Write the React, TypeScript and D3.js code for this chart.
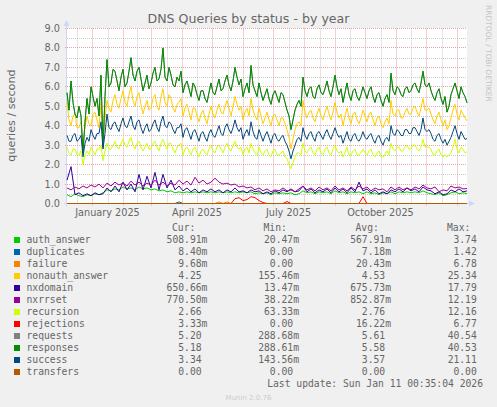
import React from 'react';
import * as d3 from 'd3';

// samples span 2024-12-07 .. 2026-01-11 (400 days); upper series every 2 days, lower every 4 days
const START = new Date(2024, 11, 7);
const END = new Date(2026, 0, 11);
const SPAN_DAYS = 400;

const AUTH_ANSWER = [
  0.45, 0.35, 0.5, 0.4, 0.35, 0.45, 0.4, 0.5, 0.45, 0.55,
  0.7, 0.65, 0.75, 0.7, 0.85, 0.75, 0.8, 0.7, 0.85, 0.75,
  0.8, 0.7, 0.75, 0.65, 0.7, 0.6, 0.65, 0.55, 0.6, 0.55,
  0.6, 0.55, 0.6, 0.55, 0.6, 0.55, 0.6, 0.55, 0.6, 0.55,
  0.6, 0.55, 0.6, 0.55, 0.6, 0.55, 0.6, 0.5, 0.55, 0.5,
  0.55, 0.45, 0.55, 0.5, 0.55, 0.5, 0.55, 0.45, 0.5, 0.65,
  0.55, 0.6, 0.5, 0.6, 0.55, 0.6, 0.5, 0.65, 0.55, 0.6,
  0.5, 0.6, 0.55, 0.6, 0.5, 0.6, 0.5, 0.55, 0.45, 0.55,
  0.5, 0.6, 0.5, 0.6, 0.55, 0.6, 0.55, 0.6, 0.55, 0.65,
  0.55, 0.5, 0.45, 0.55, 0.4, 0.45, 0.55, 0.6, 0.5, 0.55,
  0.51,
];

const DUPLICATES = [
  0, 0, 0, 0, 0, 0, 0, 0, 0, 0,
  0, 0, 0, 0, 0, 0, 0, 0, 0, 0,
  0, 0, 0, 0, 0, 0, 0, 0, 0.08, 0,
  0, 0, 0, 0, 0, 0, 0, 0, 0, 0,
  0, 0, 0, 0, 0, 0, 0, 0, 0, 0,
  0, 0, 0, 0, 0, 0, 0, 0, 0, 0,
  0, 0, 0, 0, 0, 0, 0, 0, 0, 0,
  0, 0, 0, 0, 0, 0, 0, 0, 0, 0,
  0, 0, 0, 0, 0, 0, 0, 0, 0, 0,
  0, 0, 0, 0, 0, 0, 0, 0, 0, 0,
  0,
];

const FAILURE = [
  0, 0, 0, 0, 0, 0, 0, 0, 0, 0,
  0, 0, 0, 0, 0, 0, 0, 0, 0, 0,
  0, 0, 0, 0, 0, 0, 0, 0, 0, 0,
  0, 0, 0, 0, 0, 0, 0, 0, 0.08, 0,
  0.08, 0, 0, 0, 0, 0, 0, 0, 0, 0,
  0, 0, 0, 0, 0, 0, 0, 0, 0, 0,
  0, 0, 0, 0, 0, 0, 0, 0, 0, 0,
  0, 0, 0, 0, 0, 0, 0, 0, 0, 0,
  0, 0, 0, 0, 0, 0, 0, 0, 0, 0,
  0, 0, 0, 0, 0, 0, 0, 0, 0, 0,
  0,
];

const NONAUTH_ANSWER = [
  5.2, 4.3, 4.0, 4.5, 4.6, 3.9, 3.9, 4.2, 3.1, 3.9,
  4.5, 4.1, 4.0, 4.6, 4.7, 4.3, 3.9, 5.2, 3.0, 4.4,
  5.3, 4.9, 4.7, 5.3, 5.6, 5.1, 4.9, 5.4, 5.8, 5.2,
  5.0, 5.6, 6.0, 5.3, 5.0, 5.5, 5.7, 5.1, 4.6, 5.0,
  5.3, 4.8, 4.9, 5.4, 5.6, 5.0, 4.8, 5.5, 5.9, 5.2,
  5.0, 5.6, 5.4, 4.9, 4.7, 5.1, 5.2, 5.4, 4.5, 4.9,
  5.1, 4.7, 4.3, 4.9, 4.9, 4.5, 4.2, 4.6, 4.8, 4.4,
  4.1, 4.6, 5.0, 4.6, 4.4, 4.8, 5.1, 4.7, 4.6, 5.0,
  5.3, 4.9, 4.5, 5.0, 5.5, 5.1, 4.8, 5.0, 4.3, 4.7,
  4.9, 4.5, 5.4, 4.8, 4.5, 4.3, 4.9, 4.5, 4.1, 4.4,
  4.7, 4.3, 4.0, 4.5, 4.6, 4.3, 4.0, 4.4, 4.4, 4.1,
  3.8, 3.4, 2.8, 3.3, 3.8, 4.1, 4.2, 4.0, 5.3, 4.7,
  4.4, 4.7, 4.8, 4.4, 4.2, 4.6, 4.9, 4.5, 4.3, 4.7,
  5.0, 4.6, 4.3, 4.7, 5.2, 4.7, 4.4, 4.6, 4.0, 4.5,
  4.9, 4.4, 4.1, 4.6, 4.7, 4.3, 4.1, 4.4, 4.8, 4.5,
  4.2, 4.6, 4.7, 4.3, 4.0, 4.4, 4.5, 4.1, 3.9, 4.2,
  4.4, 4.1, 5.3, 4.6, 4.5, 4.8, 4.8, 4.4, 4.4, 4.7,
  4.9, 4.6, 4.6, 4.9, 5.0, 4.7, 4.5, 4.9, 5.4, 4.8,
  4.8, 4.9, 4.6, 4.3, 4.1, 4.5, 4.7, 4.3, 4.0, 4.3,
  3.8, 4.0, 4.4, 4.8, 5.1, 4.6, 4.3, 4.8, 4.6, 4.4,
  4.25,
];

const NXDOMAIN = [
  1.2, 1.9, 0.45, 0.55, 0.4, 0.5, 0.4, 0.55, 0.45, 0.5,
  0.8, 0.6, 0.9, 0.6, 1.1, 0.7, 1.0, 0.6, 1.5, 0.7,
  1.4, 0.8, 1.6, 0.7, 1.5, 0.8, 1.2, 0.7, 0.9, 0.65,
  0.8, 0.6, 0.75, 0.55, 0.7, 0.6, 0.75, 0.6, 0.7, 0.55,
  0.7, 0.6, 0.8, 0.6, 0.65, 0.55, 0.7, 0.6, 0.65, 0.5,
  0.6, 0.5, 0.65, 0.55, 0.7, 0.6, 0.75, 0.6, 0.65, 0.9,
  0.6, 0.75, 0.55, 0.7, 0.6, 0.75, 0.55, 0.8, 0.6, 0.75,
  0.55, 0.8, 0.6, 1.1, 0.65, 0.75, 0.55, 0.7, 0.5, 0.6,
  0.5, 0.7, 0.6, 0.75, 0.6, 0.8, 0.65, 0.75, 0.6, 0.85,
  0.7, 0.65, 0.5, 0.6, 0.45, 0.5, 0.7, 0.6, 0.75, 0.6,
  0.65,
];

const NXRRSET = [
  0.8, 0.7, 0.85, 0.75, 0.9, 0.8, 0.95, 0.85, 1.0, 0.8,
  1.05, 0.9, 1.1, 0.95, 1.05, 0.9, 1.15, 0.95, 1.1, 0.9,
  1.05, 0.95, 1.2, 0.95, 1.1, 0.9, 1.05, 0.95, 1.2, 1.0,
  1.15, 0.95, 1.35, 1.05, 1.2, 1.0, 1.1, 1.3, 1.1, 1.0,
  1.05, 0.95, 1.0, 0.85, 0.9, 0.8, 0.85, 0.7, 0.8, 0.65,
  0.75, 0.6, 0.7, 0.65, 0.8, 0.65, 0.7, 0.6, 0.75, 0.9,
  0.7, 0.8, 0.65, 0.85, 0.7, 0.8, 0.65, 0.9, 0.7, 0.8,
  0.65, 0.85, 0.7, 0.9, 0.75, 0.85, 0.65, 0.8, 0.7, 0.75,
  0.6, 0.85, 0.7, 0.85, 0.7, 0.8, 0.7, 0.85, 0.75, 0.95,
  0.8, 0.75, 0.85, 0.6, 0.7, 0.65, 0.9, 0.8, 0.85, 0.75,
  0.77,
];

const RECURSION = [
  2.9, 2.6, 2.5, 2.8, 2.8, 2.5, 2.5, 2.7, 2.0, 2.5,
  2.7, 2.5, 2.9, 2.7, 2.5, 2.8, 2.8, 3.0, 2.2, 2.7,
  3.1, 2.8, 2.8, 3.0, 3.2, 2.9, 2.8, 3.1, 3.3, 3.0,
  2.9, 3.2, 3.4, 3.0, 2.8, 3.1, 3.2, 2.9, 2.7, 2.9,
  3.1, 2.8, 2.8, 3.1, 3.2, 2.9, 2.7, 3.1, 3.3, 3.0,
  2.8, 3.1, 3.1, 2.8, 2.6, 2.9, 3.0, 3.1, 2.5, 2.8,
  2.9, 2.7, 2.5, 2.8, 2.9, 2.6, 2.4, 2.7, 2.8, 2.6,
  2.5, 2.8, 3.0, 2.7, 2.6, 2.9, 3.0, 2.8, 2.6, 2.9,
  3.1, 2.8, 2.7, 3.0, 3.2, 2.9, 2.8, 2.9, 2.5, 2.8,
  2.9, 2.6, 3.1, 2.8, 2.6, 2.5, 2.9, 2.6, 2.5, 2.7,
  2.8, 2.5, 2.4, 2.7, 2.8, 2.5, 2.5, 2.6, 2.7, 2.4,
  2.3, 2.0, 1.8, 2.1, 2.4, 2.6, 2.6, 2.5, 3.1, 2.7,
  2.6, 2.8, 2.9, 2.6, 2.5, 2.8, 2.9, 2.6, 2.5, 2.8,
  2.9, 2.6, 2.5, 2.8, 3.0, 2.7, 2.6, 2.7, 2.4, 2.6,
  2.9, 2.5, 2.5, 2.7, 2.8, 2.5, 2.5, 2.6, 2.8, 2.6,
  2.5, 2.7, 2.8, 2.5, 2.4, 2.6, 2.7, 2.4, 2.4, 2.5,
  2.7, 2.5, 3.1, 2.8, 2.7, 2.9, 2.9, 2.7, 2.7, 2.9,
  3.0, 2.8, 2.8, 3.0, 3.0, 2.8, 2.7, 2.9, 3.3, 2.9,
  2.9, 2.9, 2.8, 2.5, 2.5, 2.7, 2.8, 2.5, 2.4, 2.5,
  2.4, 2.5, 2.6, 2.9, 3.3, 2.8, 2.6, 2.9, 2.8, 2.6,
  2.66,
];

const REJECTIONS = [
  0, 0, 0, 0, 0, 0, 0, 0, 0, 0,
  0, 0, 0, 0, 0, 0, 0, 0, 0, 0,
  0, 0, 0, 0, 0, 0, 0, 0, 0, 0,
  0, 0, 0, 0, 0, 0, 0, 0, 0, 0,
  0, 0, 0.25, 0.3, 0.15, 0.2, 0.35, 0.3, 0.15, 0.05,
  0, 0, 0, 0, 0, 0.1, 0, 0, 0, 0,
  0, 0, 0, 0, 0, 0, 0, 0, 0, 0,
  0, 0, 0, 0, 0.35, 0, 0, 0, 0, 0,
  0, 0, 0, 0, 0, 0, 0, 0, 0, 0,
  0, 0, 0, 0, 0, 0, 0, 0, 0, 0,
  0,
];

const RESPONSES = [
  5.7, 4.8, 6.3, 5.2, 4.6, 4.4, 5.0, 4.5, 2.6, 4.2,
  5.4, 4.6, 6.0, 5.5, 5.0, 5.4, 4.5, 6.6, 2.9, 5.5,
  7.4, 6.0, 6.2, 6.9, 6.8, 6.3, 5.8, 6.5, 6.9, 6.0,
  6.2, 6.8, 7.5, 6.6, 6.3, 6.8, 7.0, 6.4, 5.8, 6.2,
  6.6, 5.9, 6.2, 6.7, 7.0, 6.3, 6.4, 6.9, 8.0, 6.5,
  6.3, 7.0, 6.6, 6.1, 6.0, 6.5, 6.3, 6.8, 5.7, 6.1,
  6.3, 5.9, 5.5, 6.2, 6.0, 5.6, 5.3, 5.8, 5.8, 5.4,
  5.2, 5.7, 6.2, 5.7, 5.6, 6.0, 6.4, 5.8, 5.9, 6.3,
  6.6, 6.1, 5.8, 6.3, 7.0, 6.5, 6.1, 6.4, 5.5, 5.9,
  6.2, 5.7, 7.1, 6.1, 5.8, 5.5, 6.2, 5.7, 5.3, 5.6,
  5.9, 5.4, 5.1, 5.6, 5.8, 5.5, 5.2, 5.7, 5.6, 5.2,
  4.8, 4.5, 3.8, 4.3, 4.8, 5.1, 5.3, 5.0, 6.5, 5.8,
  5.5, 5.9, 6.0, 5.5, 5.4, 5.9, 6.1, 5.7, 5.6, 5.9,
  6.3, 5.8, 5.5, 6.0, 6.6, 6.0, 5.6, 5.9, 5.2, 5.7,
  6.2, 5.6, 5.3, 5.8, 5.9, 5.5, 5.3, 5.6, 6.0, 5.7,
  5.4, 5.8, 6.0, 5.5, 5.2, 5.6, 5.7, 5.3, 5.0, 5.4,
  5.6, 5.2, 6.7, 5.8, 5.6, 6.0, 5.9, 5.6, 5.5, 5.9,
  6.0, 5.7, 5.8, 6.1, 6.2, 5.9, 5.7, 6.2, 6.8, 6.1,
  6.0, 6.2, 5.8, 5.5, 5.3, 5.7, 5.9, 5.4, 5.1, 5.5,
  4.7, 5.0, 5.6, 5.9, 6.2, 5.8, 5.4, 6.0, 5.7, 5.5,
  5.18,
];

// requests run under responses almost exactly
const REQUESTS = RESPONSES;

const SUCCESS = [
  3.5, 3.2, 3.2, 3.5, 3.6, 3.2, 3.3, 3.5, 2.4, 3.1,
  3.4, 3.2, 3.8, 3.5, 3.3, 3.6, 3.6, 4.2, 2.8, 3.6,
  4.6, 3.9, 3.8, 4.1, 4.2, 3.9, 3.7, 4.1, 4.4, 4.0,
  3.9, 4.2, 4.5, 4.0, 3.8, 4.2, 4.3, 3.9, 3.6, 3.9,
  4.1, 3.7, 3.8, 4.1, 4.3, 3.9, 3.7, 4.2, 4.5, 4.0,
  3.9, 4.2, 4.1, 3.8, 3.6, 3.9, 3.9, 4.1, 3.4, 3.8,
  3.9, 3.6, 3.3, 3.7, 3.8, 3.5, 3.2, 3.6, 3.7, 3.4,
  3.2, 3.6, 3.8, 3.5, 3.4, 3.7, 4.0, 3.6, 3.5, 3.9,
  4.1, 3.8, 3.6, 3.9, 4.3, 3.9, 3.7, 3.9, 3.3, 3.6,
  3.8, 3.5, 4.2, 3.7, 3.4, 3.3, 3.8, 3.5, 3.2, 3.5,
  3.7, 3.4, 3.1, 3.5, 3.6, 3.3, 3.2, 3.4, 3.5, 3.2,
  3.0, 2.7, 2.3, 2.7, 3.0, 3.3, 3.4, 3.2, 3.9, 3.5,
  3.3, 3.6, 3.7, 3.4, 3.2, 3.6, 3.7, 3.5, 3.3, 3.6,
  3.8, 3.5, 3.3, 3.6, 3.9, 3.6, 3.4, 3.5, 3.1, 3.4,
  3.7, 3.3, 3.2, 3.5, 3.6, 3.3, 3.2, 3.4, 3.7, 3.4,
  3.3, 3.5, 3.6, 3.3, 3.1, 3.4, 3.5, 3.2, 3.0, 3.3,
  3.4, 3.2, 4.0, 3.6, 3.5, 3.8, 3.7, 3.5, 3.5, 3.8,
  3.8, 3.6, 3.6, 3.9, 3.9, 3.7, 3.5, 3.8, 4.4, 3.8,
  3.7, 3.8, 3.6, 3.3, 3.2, 3.5, 3.6, 3.3, 3.1, 3.3,
  3.0, 3.2, 3.4, 3.7, 4.0, 3.6, 3.3, 3.7, 3.5, 3.3,
  3.34,
];

const TRANSFERS = [
  0, 0, 0, 0, 0, 0, 0, 0, 0, 0,
  0, 0, 0, 0, 0, 0, 0, 0, 0, 0,
  0, 0, 0, 0, 0, 0, 0, 0, 0, 0,
  0, 0, 0, 0, 0, 0, 0, 0, 0, 0,
  0, 0, 0, 0, 0, 0, 0, 0, 0, 0,
  0, 0, 0, 0, 0, 0, 0, 0, 0, 0,
  0, 0, 0, 0, 0, 0, 0, 0, 0, 0,
  0, 0, 0, 0, 0, 0, 0, 0, 0, 0,
  0, 0, 0, 0, 0, 0, 0, 0, 0, 0,
  0, 0, 0, 0, 0, 0, 0, 0, 0, 0,
  0,
];

const NAMES = [
  'auth_answer', 'duplicates', 'failure', 'nonauth_answer', 'nxdomain', 'nxrrset',
  'recursion', 'rejections', 'requests', 'responses', 'success', 'transfers',
];
const COLORS = [
  '#00CC00', '#0066B3', '#FF8000', '#FFCC00', '#330099', '#990099',
  '#CCFF00', '#FF0000', '#808080', '#008F00', '#00487D', '#B35A00',
];
const VALUES = [
  AUTH_ANSWER, DUPLICATES, FAILURE, NONAUTH_ANSWER, NXDOMAIN, NXRRSET,
  RECURSION, REJECTIONS, REQUESTS, RESPONSES, SUCCESS, TRANSFERS,
];

const CUR = ['508.91m', '8.40m', '9.68m', '4.25', '650.66m', '770.50m', '2.66', '3.33m', '5.20', '5.18', '3.34', '0.00'];
const MIN = ['20.47m', '0.00', '0.00', '155.46m', '13.47m', '38.22m', '63.33m', '0.00', '288.68m', '288.61m', '143.56m', '0.00'];
const AVG = ['567.91m', '7.18m', '20.43m', '4.53', '675.73m', '852.87m', '2.76', '16.22m', '5.61', '5.58', '3.57', '0.00'];
const MAX = ['3.74', '1.42', '6.78', '25.34', '17.79', '12.19', '12.16', '6.77', '40.54', '40.53', '21.11', '0.00'];

const Y_TICKS = [0, 1, 2, 3, 4, 5, 6, 7, 8, 9];

const W = 497;
const H = 407;
const LEFT = 67;
const RIGHT = 467;
const TOP = 28.5;
const BOTTOM = 203.5;
const FONT = 'DejaVu Sans, sans-serif';
const MONO = 'DejaVu Sans Mono, monospace';
const INK = '#666666';
const AXIS = '#CFD6F8';

const x = d3.scaleTime().domain([START, END]).range([LEFT, RIGHT]);
const y = d3.scaleLinear().domain([0, 9]).range([BOTTOM, TOP]);

function seriesPath(vals: number[]) {
  const step = SPAN_DAYS / (vals.length - 1);
  const line = d3.line<number>()
    .x((_, i) => x(d3.timeHour.offset(START, Math.round(i * step * 24))))
    .y((d) => y(d));
  return line(vals) ?? '';
}

function LegendValue({ value, end, top }: { value: string; end: number; top: number }) {
  const num = value.replace(/m$/, '');
  const unit = value.endsWith('m') ? 'm' : '';
  return (
    <>
      <text x={end} y={top} textAnchor="end">{num}</text>
      {unit && <text x={end} y={top}>{unit}</text>}
    </>
  );
}

export default function App() {
  const months = d3.timeMonth.range(d3.timeMonth.ceil(START), END);
  const crisp = (v: number) => Math.round(v) + 0.5;

  // minor lines halfway between month starts
  const bounds = [d3.timeMonth.floor(START), ...months, d3.timeMonth.ceil(END)];
  const minorX = d3.pairs(bounds)
    .map(([a, b]) => (x(a) + x(b)) / 2)
    .filter((v) => v > LEFT && v < RIGHT);

  const fmt = d3.timeFormat('%B %Y');
  const labelMonths = d3.timeMonth.every(3)!
    .range(new Date(2025, 0, 1), END)
    .filter((m) => d3.timeMonth.offset(m, 1) <= END);

  const halfSteps = d3.range(0.5, 9, 1);

  const ROW0 = 243;
  const ROW_H = 12;

  return (
    <svg
      width={W}
      height={H}
      viewBox={`0 0 ${W} ${H}`}
      style={{ position: 'absolute', left: 0, top: 0, display: 'block' }}
    >
      <rect x={0} y={0} width={W} height={H} fill="#F0F0F0" />
      <rect x={LEFT} y={TOP - 0.5} width={RIGHT - LEFT} height={BOTTOM - TOP + 0.5} fill="#FFFFFF" />

      {/* minor grid */}
      <g stroke="#C8C8C8" strokeDasharray="1,1" strokeWidth={1}>
        {halfSteps.map((v) => (
          <line key={`hm${v}`} x1={LEFT} x2={RIGHT} y1={crisp(y(v))} y2={crisp(y(v))} />
        ))}
        {minorX.map((v, i) => (
          <line key={`vm${i}`} x1={crisp(v)} x2={crisp(v)} y1={TOP} y2={BOTTOM} />
        ))}
      </g>
      {/* major grid */}
      <g stroke="#E8A4A4" strokeDasharray="1,1" strokeWidth={1}>
        {Y_TICKS.filter((t) => t > 0).map((t) => (
          <line key={`h${t}`} x1={LEFT - 2} x2={RIGHT} y1={crisp(y(t) - 0.5)} y2={crisp(y(t) - 0.5)} />
        ))}
        {months.map((m, i) => (
          <line key={`v${i}`} x1={crisp(x(m))} x2={crisp(x(m))} y1={TOP} y2={BOTTOM + 2} />
        ))}
      </g>

      {/* axes */}
      <line x1={LEFT - 0.5} x2={LEFT - 0.5} y1={BOTTOM + 3} y2={23} stroke={AXIS} />
      <polygon points={`${LEFT - 3.5},26 ${LEFT + 2.5},26 ${LEFT - 0.5},20`} fill={AXIS} />
      <line x1={LEFT - 3} x2={RIGHT + 4} y1={BOTTOM} y2={BOTTOM} stroke={AXIS} />
      <polygon points={`${RIGHT + 2},${BOTTOM - 3} ${RIGHT + 2},${BOTTOM + 3} ${RIGHT + 8},${BOTTOM}`} fill={AXIS} />

      {/* series, drawn in legend order */}
      <g fill="none" strokeWidth={1} strokeLinejoin="round">
        {VALUES.map((vals, i) => (
          <path key={NAMES[i]} d={seriesPath(vals)} stroke={COLORS[i]} />
        ))}
      </g>

      {/* y tick labels */}
      <g fontFamily={FONT} fontSize={9.7} fill={INK} textAnchor="end">
        {Y_TICKS.map((t) => (
          <text key={t} x={60} y={y(t)} dy="0.36em">{t.toFixed(1)}</text>
        ))}
      </g>

      {/* x labels centered in their month */}
      <g fontFamily={FONT} fontSize={9.7} fill={INK} textAnchor="middle">
        {labelMonths.map((m) => (
          <text key={m.toISOString()} x={(x(m) + x(d3.timeMonth.offset(m, 1))) / 2} y={216}>
            {fmt(m)}
          </text>
        ))}
      </g>

      <text x={W / 2} y={23} textAnchor="middle" fontFamily={FONT} fontSize={12.6} fill={INK}>
        DNS Queries by status - by year
      </text>
      <text
        transform="translate(14.5,115.5) rotate(-90)"
        textAnchor="middle"
        fontFamily={FONT}
        fontSize={11.2}
        fill={INK}
      >
        queries / second
      </text>
      <text
        transform="translate(486,5) rotate(90)"
        fontFamily={FONT}
        fontSize={7.5}
        fill="#C4C4C4"
      >
        RRDTOOL / TOBI OETIKER
      </text>

      {/* legend */}
      <g fontFamily={MONO} fontSize={9.7} fill={INK}>
        <text x={172} y={231}>Cur:</text>
        <text x={263.5} y={231}>Min:</text>
        <text x={355.5} y={231}>Avg:</text>
        <text x={447} y={231}>Max:</text>
        {NAMES.map((name, i) => {
          const top = ROW0 + i * ROW_H;
          return (
            <g key={name}>
              <rect x={14} y={top - 6} width={6} height={6} fill={COLORS[i]} />
              <text x={26.5} y={top}>{name}</text>
              <LegendValue value={CUR[i]} end={201.6} top={top} />
              <LegendValue value={MIN[i]} end={293.2} top={top} />
              <LegendValue value={AVG[i]} end={385.2} top={top} />
              <LegendValue value={MAX[i]} end={476.8} top={top} />
            </g>
          );
        })}
        <text x={483} y={387} textAnchor="end">Last update: Sun Jan 11 00:35:04 2026</text>
      </g>

      <text x={W / 2} y={400} textAnchor="middle" fontFamily={FONT} fontSize={7} fill="#CCCCCC">
        Munin 2.0.76
      </text>
    </svg>
  );
}
